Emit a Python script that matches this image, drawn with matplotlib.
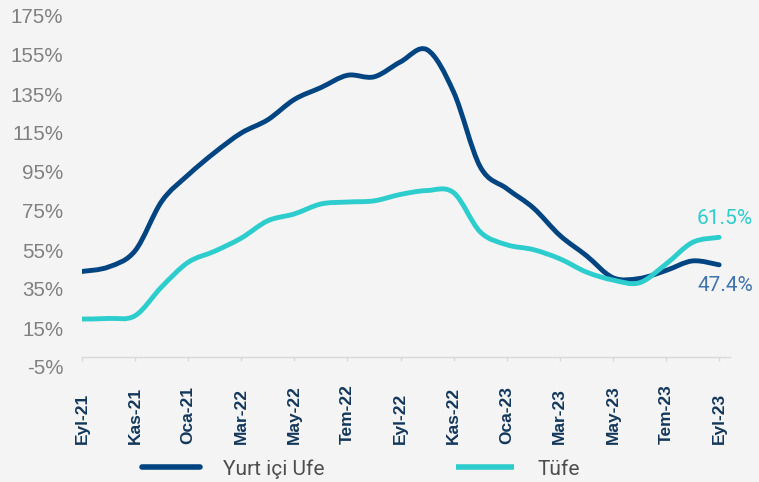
import matplotlib.pyplot as plt
import numpy as np
from matplotlib.lines import Line2D
from matplotlib.patches import PathPatch
from matplotlib.path import Path

# Annual change, Sep-21 .. Sep-23 (monthly)
months = [
    "Eyl-21", "Eki-21", "Kas-21", "Ara-21", "Oca-21", "Şub-22", "Mar-22",
    "Nis-22", "May-22", "Haz-22", "Tem-22", "Ağu-22", "Eyl-22", "Eki-22",
    "Kas-22", "Ara-22", "Oca-23", "Şub-23", "Mar-23", "Nis-23", "May-23",
    "Haz-23", "Tem-23", "Ağu-23", "Eyl-23",
]
ufe = [44.0, 46.3, 54.6, 79.9, 93.5, 105.0, 115.0, 121.8, 132.2, 138.3,
       144.6, 143.8, 151.5, 157.7, 136.0, 97.7, 86.5, 76.6, 62.5, 52.1,
       40.8, 40.4, 44.5, 49.4, 47.4]
tufe = [19.6, 19.9, 21.3, 36.1, 48.7, 54.4, 61.1, 70.0, 73.5, 78.6,
        79.6, 80.2, 83.5, 85.5, 84.4, 64.3, 57.7, 55.2, 50.5, 43.7,
        39.6, 38.2, 47.8, 58.9, 61.5]
y_ticks = [-5, 15, 35, 55, 75, 95, 115, 135, 155, 175]

BG = "#F4F4F4"
DARK = "#004481"
AQUA = "#2DCCCD"


def smooth_path(x, y):
    """Excel-like smoothed line as cubic Bezier segments."""
    pts = np.column_stack([x, y]).astype(float)
    verts = [pts[0]]
    codes = [Path.MOVETO]
    n = len(pts)
    for i in range(n - 1):
        p0 = pts[max(i - 1, 0)]
        p1 = pts[i]
        p2 = pts[i + 1]
        p3 = pts[min(i + 2, n - 1)]
        c1 = p1 + (p2 - p0) / 6.0
        c2 = p2 - (p3 - p1) / 6.0
        verts += [c1, c2, p2]
        codes += [Path.CURVE4] * 3
    return Path(verts, codes)


fig = plt.figure(figsize=(7.59, 4.82), dpi=100, facecolor=BG)
ax = fig.add_axes([82 / 759, 1 - 367 / 482, 648 / 759, 351 / 482])
ax.set_facecolor(BG)

x = np.arange(len(months))
for vals, col in [(ufe, DARK), (tufe, AQUA)]:
    ax.add_patch(PathPatch(smooth_path(x, vals), fill=False, edgecolor=col,
                           lw=3.5, capstyle="round", joinstyle="round", zorder=3))

ax.set_xlim(0, 24.41)
ax.set_ylim(-5, 175)

for side in ["top", "right", "left"]:
    ax.spines[side].set_visible(False)
ax.spines["bottom"].set_position(("data", 0))
ax.spines["bottom"].set_color("#D9D9D9")
ax.spines["bottom"].set_linewidth(1.0)

ax.set_yticks(y_ticks)
ax.set_yticklabels([f"{v}%" for v in y_ticks], fontsize=14.8,
                   color="#808080", family=["Liberation Sans", "DejaVu Sans"])
ax.tick_params(axis="y", length=0, pad=13.5)

tick_idx = x[::2]
ax.set_xticks(tick_idx)
ax.set_xticklabels([months[i] for i in tick_idx], rotation=90, va="bottom",
                   fontsize=12.5, fontweight="bold", color="#13375B",
                   family=["Liberation Sans", "DejaVu Sans"])
ax.tick_params(axis="x", direction="out", length=3, width=1,
               color="#D9D9D9", pad=59.5)

# end labels
ax.annotate(f"{tufe[-1]:.1f}%", xy=(x[-1], tufe[-1]), xytext=(-22, 19),
            textcoords="offset pixels", ha="left", va="center",
            fontsize=15, color=AQUA, family=["Roboto", "DejaVu Sans"])
ax.annotate(f"{ufe[-1]:.1f}%", xy=(x[-1], ufe[-1]), xytext=(-22, -21),
            textcoords="offset pixels", ha="left", va="center",
            fontsize=15, color="#3F73B0", family=["Roboto", "DejaVu Sans"])

handles = [Line2D([], [], color=DARK, lw=4, solid_capstyle="round"),
           Line2D([], [], color=AQUA, lw=4, solid_capstyle="butt")]
fig.legend(handles, ["Yurt içi Ufe", "Tüfe"], ncol=2, frameon=False,
           loc="center left", bbox_to_anchor=(142 / 759, 1 - 469 / 482),
           borderpad=0, borderaxespad=0, handlelength=2.8, handletextpad=1.1,
           columnspacing=6.3,
           prop={"family": ["Roboto", "DejaVu Sans"], "size": 15},
           labelcolor="#4D4D4D")

fig.savefig("out.png", dpi=100, facecolor=BG)
